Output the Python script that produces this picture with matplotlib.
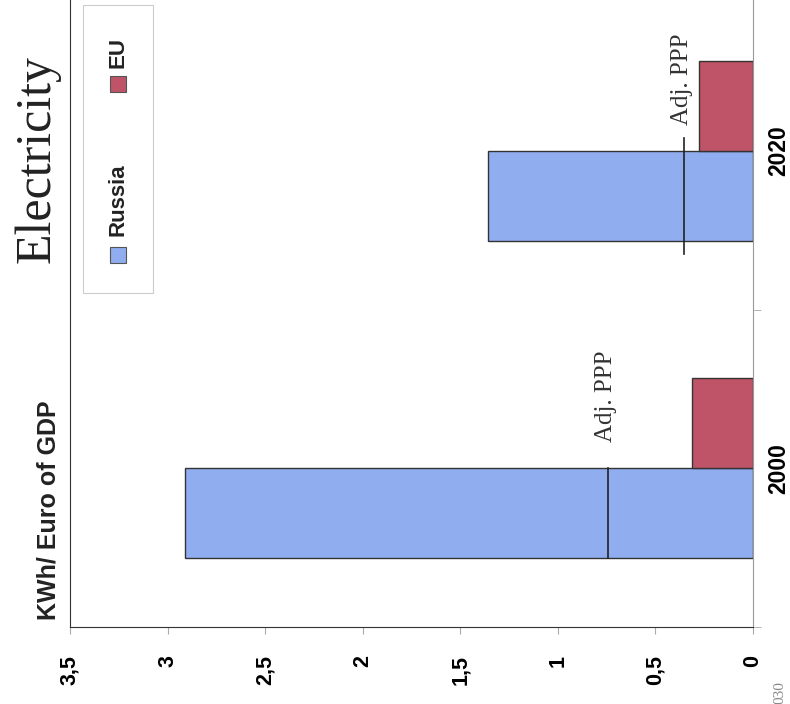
import numpy as np
import matplotlib.pyplot as plt
from matplotlib.patches import Rectangle

years = ["2000", "2020"]
russia = [2.91, 1.36]
eu = [0.315, 0.276]
adj_ppp = [0.742, 0.352]
value_ticks = [0, 0.5, 1, 1.5, 2, 2.5, 3, 3.5]
value_labels = ["0", "0,5", "1", "1,5", "2", "2,5", "3", "3,5"]

W, H = 790, 704
blue = '#8FADEF'
red = '#BF5468'
edge = '#333333'
sans = ['Liberation Sans', 'DejaVu Sans']
serif = ['Liberation Serif', 'DejaVu Serif']

fig = plt.figure(figsize=(W / 100, H / 100), dpi=100)
fig.patch.set_facecolor('white')

# axes in pixel terms (chart is drawn turned on its side)
ax_l, ax_r, ax_b, ax_t = 70, 753, 627, -7.6
ax = fig.add_axes([ax_l / W, (H - ax_b) / H, (ax_r - ax_l) / W, (ax_b - ax_t) / H])

y = np.arange(len(years))
bh = 0.284
ax.barh(y - bh / 2, russia, height=bh, color=blue, edgecolor=edge, linewidth=1)
ax.barh(y + bh / 2, eu, height=bh, color=red, edgecolor=edge, linewidth=1)

# adjusted-PPP markers across the Russia bars
ppp_ext = [0.0, 0.041]
for i, v in enumerate(adj_ppp):
    ax.plot([v, v], [y[i] - bh - ppp_ext[i], y[i] + ppp_ext[i]], color='#222222', lw=1.2)
    ax.annotate("Adj. PPP", xy=(v, y[i]), xytext=(-1.5, 19), textcoords='offset points',
                rotation=90, ha='center', va='bottom', fontsize=18, family=serif,
                color='#333333')

ax.set_xlim(3.5, 0)
ax.set_ylim(-0.5, 1.5)

ax.set_xticks(value_ticks)
ax.set_xticklabels(value_labels, rotation=90, fontsize=15.5, fontweight='bold', family=sans)
ax.tick_params(axis='x', length=5, color='#aaaaaa', pad=15)

ax.yaxis.tick_right()
ax.set_yticks(y)
ax.set_yticklabels(years, rotation=90, va='center', fontsize=16.5, fontweight='bold', family=sans)
ax.set_yticks([-0.5, 0.5, 1.5], minor=True)
ax.tick_params(axis='y', which='major', length=0, pad=10)
ax.tick_params(axis='y', which='minor', length=6, color='#aaaaaa')

ax.spines['top'].set_visible(False)
ax.spines['left'].set_color('#333333')
ax.spines['bottom'].set_color('#333333')
ax.spines['right'].set_color('#999999')

# title and axis title, rotated like the rest
fig.text(37.5 / W, 1 - 159 / H, "Electricity", rotation=90, ha='center', va='center',
         fontsize=36, family=serif, color='#222222')
fig.text(49 / W, 1 - 510 / H, "KWh/ Euro of GDP", rotation=90, ha='center', va='center',
         fontsize=18, fontweight='bold', family=sans, color='#222222')

# legend box drawn by hand since it is rotated
fig.patches.append(Rectangle((83 / W, 1 - 293 / H), 70 / W, 288 / H, transform=fig.transFigure,
                             facecolor='white', edgecolor='#cccccc', lw=0.8))
for name, col, sq_y, txt_y in [("Russia", blue, 255, 200), ("EU", red, 84, 53)]:
    fig.patches.append(Rectangle((110 / W, 1 - (sq_y + 8) / H), 16 / W, 16 / H,
                                 transform=fig.transFigure, facecolor=col,
                                 edgecolor='#555555', lw=0.8))
    fig.text(118 / W, 1 - txt_y / H, name, rotation=90, ha='center', va='center',
             fontsize=16, fontweight='bold', family=sans, color='#222222')

fig.text(780 / W, 1 - 693 / H, "030", rotation=90, ha='center', va='center',
         fontsize=11, family=serif, color='#888888')

fig.savefig('out.png', dpi=100)
